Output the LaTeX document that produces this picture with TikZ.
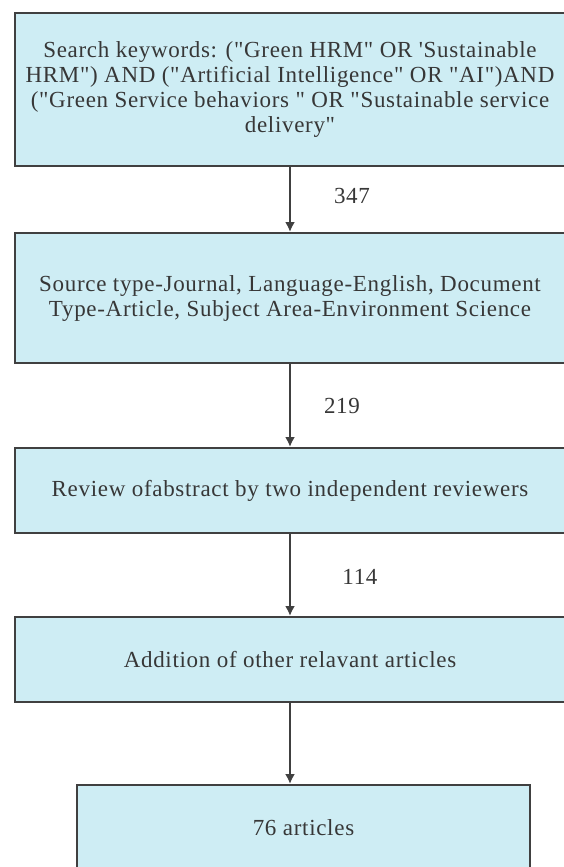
\documentclass[tikz,border=0pt]{standalone}
\usepackage{fontspec}
\setmainfont{Liberation Serif}[Ligatures=TeXOff, LetterSpace=3]
\usetikzlibrary{arrows.meta}
\definecolor{boxfill}{RGB}{206,237,244}
\definecolor{boxline}{RGB}{64,64,64}
\definecolor{ink}{RGB}{55,55,55}
\tikzset{
   stage/.style={draw=boxline, line width=1bp, fill=boxfill, text=ink,
      align=center, inner sep=0pt, font=\fontsize{11.5bp}{12.5bp}\selectfont},
   flow/.style={draw=boxline, line width=1bp, -{Latex[length=5bp, width=5bp]}},
   count/.style={text=ink, font=\fontsize{11.5bp}{12.5bp}\selectfont}
}
\begin{document}
\begin{tikzpicture}[x=0.5bp, y=-0.5bp]
   \useasboundingbox (0, 0) rectangle (564, 867);
   \node[stage, minimum width=275bp, minimum height=76.5bp] (search) at (290, 89.5)
      {Search keywords: ("Green HRM" OR 'Sustainable\\
       HRM") AND ("Artificial Intelligence" OR "AI")AND\\
       ("Green Service behaviors " OR "Sustainable service\\
       delivery"};
   \node[stage, minimum width=275bp, minimum height=65bp] (filter) at (290, 298)
      {Source type-Journal, Language-English, Document\\
       Type-Article, Subject Area-Environment Science};
   \node[stage, minimum width=275bp, minimum height=42.5bp] (review) at (290, 490.5)
      {Review ofabstract by two independent reviewers};
   \node[stage, minimum width=275bp, minimum height=42.5bp] (addition) at (290, 659.5)
      {Addition of other relavant articles};
   \node[stage, minimum width=226.5bp, minimum height=42.5bp] (articles) at (303.5, 827.5)
      {76 articles};
   \draw[flow] (search) -- (filter) node[count, midway, xshift=31bp, yshift=2bp] {347};
   \draw[flow] (filter) -- (review) node[count, midway, xshift=26bp] {219};
   \draw[flow] (review) -- (addition) node[count, midway, xshift=35bp, yshift=-1bp] {114};
   \draw[flow] (addition) -- (addition |- articles.north);
\end{tikzpicture}
\end{document}
